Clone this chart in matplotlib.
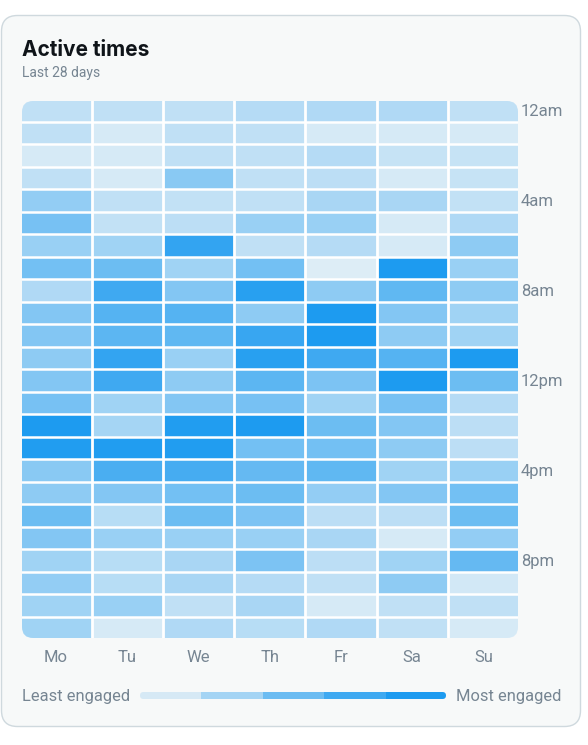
import numpy as np
import matplotlib
matplotlib.use("Agg")
import matplotlib.pyplot as plt
from matplotlib.colors import LinearSegmentedColormap
from matplotlib.patches import FancyBboxPatch

days = ["Mo", "Tu", "We", "Th", "Fr", "Sa", "Su"]
hour_labels = ["12am", "4am", "8am", "12pm", "4pm", "8pm"]
hour_rows = [0, 4, 8, 12, 16, 20]
engagement = [
    [.28, .28, .28, .33, .35, .35, .28],
    [.28, .18, .28, .28, .18, .18, .18],
    [.18, .18, .28, .28, .33, .25, .25],
    [.28, .18, .52, .28, .30, .18, .25],
    [.48, .28, .27, .28, .38, .38, .27],
    [.60, .27, .30, .45, .45, .18, .35],
    [.45, .42, .90, .28, .33, .18, .50],
    [.62, .65, .42, .62, .15, 1.0, .45],
    [.35, .85, .55, .95, .50, .70, .50],
    [.55, .75, .75, .50, 1.0, .55, .42],
    [.55, .72, .70, .88, 1.0, .50, .42],
    [.50, .90, .45, .95, .85, .75, 1.0],
    [.55, .85, .50, .72, .58, 1.0, .65],
    [.60, .42, .55, .60, .42, .60, .33],
    [1.0, .40, .98, 1.0, .65, .55, .30],
    [.98, .98, .98, .62, .62, .50, .30],
    [.52, .80, .82, .68, .70, .42, .45],
    [.50, .55, .62, .65, .48, .55, .62],
    [.65, .32, .65, .58, .30, .30, .65],
    [.55, .45, .45, .45, .38, .18, .48],
    [.42, .32, .38, .58, .30, .42, .68],
    [.48, .32, .38, .33, .28, .50, .20],
    [.42, .45, .28, .38, .18, .28, .28],
    [.42, .18, .35, .32, .35, .28, .18],
]
legend_levels = [.18, .40, .65, .85, 1.0]

W, H = 588, 745
plt.rcParams["font.family"] = ["Inter", "DejaVu Sans"]
cmap = LinearSegmentedColormap.from_list("blue", ["#FFFBF7", "#1D9BF0"])
GREY = "#768592"

fig = plt.figure(figsize=(W / 100, H / 100), dpi=100, facecolor="white")

def px_axes(x0, y0, x1, y1):
    return fig.add_axes([x0 / W, 1 - y1 / H, (x1 - x0) / W, (y1 - y0) / H])

bg = fig.add_axes([0, 0, 1, 1])
bg.set_xlim(0, W); bg.set_ylim(H, 0); bg.axis("off")
bg.add_patch(FancyBboxPatch((1.5, 15.5), 579, 711, boxstyle="round,pad=0,rounding_size=16",
                            fc="#F7F9F9", ec="#CFD9DE", lw=1))
bg.text(22, 49.5, "Active times", fontsize=15, fontweight="bold", color="#0F1419", va="center", ha="left")
bg.text(22, 73, "Last 28 days", fontsize=10, color=GREY, va="center", ha="left", family="Roboto")

# Heat map
ax = px_axes(20.5, 99.2, 519, 639.2)
data = np.array(engagement)
nrows, ncols = data.shape
mesh = ax.pcolormesh(np.arange(ncols + 1), np.arange(nrows + 1), data, cmap=cmap, vmin=0, vmax=1)
ax.set_xlim(0, ncols); ax.set_ylim(nrows, 0)
for s in ax.spines.values():
    s.set_visible(False)
ax.set_facecolor("none")
clip = FancyBboxPatch((22, 101), 496, 537, boxstyle="round,pad=0,rounding_size=11",
                      transform=bg.transData, fc="none", ec="none")
bg.add_patch(clip)
mesh.set_clip_path(clip)
vl = ax.vlines(np.arange(1, ncols), 0, nrows, color="white", lw=2.0)
hl = ax.hlines(np.arange(1, nrows), 0, ncols, color="white", lw=1.8)
vl.set_clip_path(clip)
hl.set_clip_path(clip)
ax.xaxis.tick_bottom(); ax.yaxis.tick_right()
ax.set_xticks(np.arange(ncols) + 0.5, days)
ax.set_yticks(np.array(hour_rows) + 0.5, hour_labels)
ax.tick_params(axis="both", length=0, labelcolor=GREY, labelsize=12, labelfontfamily="Roboto")
ax.tick_params(axis="x", pad=7.5)
ax.tick_params(axis="y", pad=1.2)

# Legend
lax = px_axes(140, 692, 446, 699)
bars = lax.imshow([legend_levels], cmap=cmap, vmin=0, vmax=1, aspect="auto",
                  extent=(0, len(legend_levels), 0, 1), interpolation="nearest")
lax.axis("off")
lclip = FancyBboxPatch((140, 692), 306, 7, boxstyle="round,pad=0,rounding_size=3.5",
                       transform=bg.transData, fc="none", ec="none")
bg.add_patch(lclip)
bars.set_clip_path(lclip)
bg.text(22, 696, "Least engaged", fontsize=11.9, color=GREY, va="center", ha="left", family="Roboto")
bg.text(561, 696, "Most engaged", fontsize=11.9, color=GREY, va="center", ha="right", family="Roboto")

fig.savefig("out.png", dpi=100, facecolor="white")
